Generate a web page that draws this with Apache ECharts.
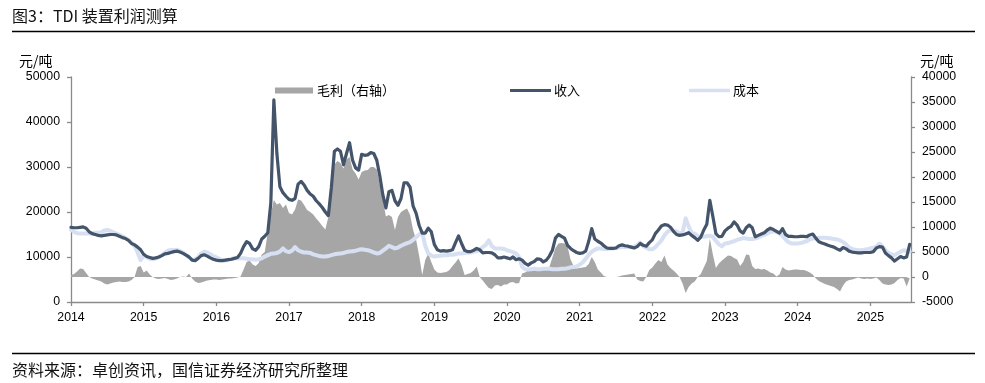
<!DOCTYPE html>
<html>
<head>
<meta charset="utf-8">
<script src="https://cdn.jsdelivr.net/npm/echarts@6/dist/echarts.min.js"></script>
<style>
html,body{margin:0;padding:0;background:#fff;}
#c{width:985px;height:383px;}
</style>
</head>
<body>
<div id="c"></div>
<script>
// Semi-monthly observations (1st and 16th of each month), Jan 2014 - Jul 2025
const startYear = 2014;
const stepsPerYear = 24;
const xTickYears = [2014,2015,2016,2017,2018,2019,2020,2021,2022,2023,2024,2025];

// 收入 (left axis, 元/吨)
const income = [
  // 2014
  16600,16500,16500,16600,16700,16400,15600,15200,15000,14800,14700,14800,14900,15000,15000,14900,14600,14300,14100,13700,13000,12700,12200,11600,
  // 2015
  10600,10100,9900,9700,9800,10000,10300,10700,10800,11000,11200,11300,11100,10800,10400,10000,9300,9200,9700,10300,10500,10200,9800,9500,
  // 2016
  9300,9200,9200,9300,9400,9500,9700,9900,10800,12300,13400,13000,11800,11500,12300,14000,14600,15400,22000,44900,33000,25600,24300,23500,
  // 2017
  22800,22600,23000,26200,26800,26000,24800,24000,23500,22500,21800,21000,20000,19200,25500,33500,34000,33500,30500,33000,35400,31500,29800,29300,
  // 2018
  32800,32600,32700,33200,33000,31500,28000,23800,20900,24500,24800,22500,21500,23000,26500,26500,25500,21300,19700,17000,15300,15300,16400,15600,
  // 2019
  12800,11600,11300,11400,11300,11400,11600,13200,14700,13000,11500,11200,11200,11500,11900,11600,10900,11000,11000,10900,10500,9800,9800,10000,
  // 2020
  9800,9600,10000,9400,9600,9300,8600,8200,8700,9000,9600,9500,8900,9300,10200,11500,14200,15000,14600,14200,12600,11900,11400,11000,
  // 2021
  10800,10900,11300,13500,16300,14000,13500,13100,12500,12000,11900,11900,12000,12500,12700,12500,12400,12200,12000,12300,13000,12600,12400,13200,
  // 2022
  13800,15200,16000,16900,17200,17100,16600,15700,15000,14800,14900,15100,15400,14800,14300,13700,14400,16000,17300,22600,19000,15200,14500,14600,
  // 2023
  15800,16400,16800,17800,17100,15800,15300,16500,17100,16500,14500,14800,15100,15400,16000,16400,16100,15700,15300,16300,15000,14600,14600,14500,
  // 2024
  14500,14600,14600,14500,14900,15100,14200,13400,13100,12900,12600,12400,12200,11800,11500,12100,11800,11300,11100,11000,10900,10900,11000,11000,
  // 2025
  11000,11200,12000,12300,12200,10900,10300,9800,9100,9600,10100,9800,10000,12800
];

// 成本 (left axis, 元/吨)
const cost = [
  // 2014
  16100,15600,15300,15200,15200,15200,15200,15300,15400,15400,15500,15900,16000,15800,15500,15200,14900,14600,14200,13800,13200,12500,11000,9300,
  // 2015
  10300,10000,9600,9500,9700,9900,10400,10900,11400,11600,11500,11600,11300,11000,10500,9900,9400,9400,10000,10800,11200,11000,10600,10200,
  // 2016
  9900,9600,9300,9200,9400,9600,9700,9800,9700,9700,9600,9500,9500,9400,9500,9700,10100,10400,10700,10800,10900,11200,11900,11300,
  // 2017
  11100,11400,12200,11500,11200,11000,11000,10900,10600,10400,10200,10100,10100,10200,10400,10600,10700,10800,10900,11100,11200,11300,11400,11600,
  // 2018
  11700,11600,11500,11300,11000,10800,10900,11400,11900,12500,12200,11900,12100,12500,12800,13100,13300,13800,14400,15000,15500,12500,10800,10300,
  // 2019
  10100,10200,10300,10400,10400,10500,10500,10600,10800,10800,10900,11000,11000,11200,11300,11600,12200,12700,13700,12400,11900,11900,11900,11800,
  // 2020
  11500,11300,11100,10800,10000,7800,7300,7200,7300,7400,7300,7300,7400,7400,7400,7300,7300,7300,7400,7400,7500,7700,7800,7900,
  // 2021
  8300,8800,9600,10500,11200,11600,11900,11900,11800,11800,11900,11900,12000,12100,12200,12300,12200,12200,12300,12600,13200,12400,12100,11700,
  // 2022
  11700,12200,12900,13700,14800,15600,16000,15800,15700,15300,15400,18600,16800,15300,15200,14600,14500,14500,14600,14700,14500,13600,12800,12400,
  // 2023
  13000,13100,13300,13500,13800,14000,14200,14100,14000,14000,14100,14300,14700,14900,15200,15600,15700,15600,15200,14700,13900,13300,13000,13000,
  // 2024
  13000,13100,13300,13500,13900,14100,14200,14300,14300,14300,14200,14100,14000,13900,13700,13300,12800,12100,11800,11600,11500,11500,11600,11700,
  // 2025
  11900,12100,12300,13000,12300,11500,10900,10600,10400,10800,11200,11500,11400,11200
];

// 毛利 (right axis, 元/吨)
const margin = [
  // 2014
  400,600,1100,1700,1600,800,0,-300,-500,-700,-900,-1300,-1500,-1300,-1100,-1000,-900,-1000,-1000,-900,-600,0,2000,2200,
  // 2015
  900,1300,500,0,-300,-400,-300,-200,-400,-600,-500,-300,0,100,0,700,-300,-900,-1200,-1100,-900,-700,-600,-500,
  // 2016
  -500,-600,-500,-400,-300,-300,-200,-100,100,1500,3000,3300,2500,2200,2800,4500,5000,9000,12500,15400,14500,14800,13800,14500,
  // 2017
  12800,12500,13500,15500,15300,14400,13400,13000,12500,11700,11000,10200,9500,12000,16500,22500,23200,22800,21700,23500,24000,21500,20700,19500,
  // 2018
  21000,21300,21400,22000,22000,21500,18500,15400,12100,12400,12000,9400,12000,13000,13400,13700,12400,9400,7400,4200,400,3400,4700,3000,
  // 2019
  1500,900,800,900,1000,1400,2200,2900,3700,2400,400,600,800,1300,2100,0,-700,-1500,-2200,-2400,-1700,-1600,-1900,-1500,
  // 2020
  -1500,-1100,-1000,-1300,-1200,700,900,1300,1400,1500,1400,1400,1500,1600,2000,3900,5800,6700,6800,6700,6100,3500,2200,1700,
  // 2021
  1800,1900,2000,2600,4000,3000,1500,900,200,0,0,0,0,100,300,400,500,600,700,-500,-800,-900,0,1400,
  // 2022
  1900,2700,3400,3000,4300,2500,1800,1300,700,0,-1300,-3200,-2000,-1300,-900,0,600,1900,3200,7700,4500,1800,2700,3300,
  // 2023
  3800,4300,4200,3800,3500,2200,3000,4500,4400,2200,1600,1700,1500,1600,1300,900,700,100,500,2000,1500,1300,1400,1500,
  // 2024
  1500,1400,1400,1200,900,500,-300,-800,-1100,-1400,-1600,-1800,-2000,-2400,-2900,-1700,-900,-600,-500,-300,-100,-300,-400,-300,
  // 2025
  -400,-300,-100,-600,-1300,-1500,-1600,-1500,-1200,-600,-200,-300,-1900,-300
];

const leftTicks = {min: 0, max: 50000, interval: 10000};
const rightTicks = {min: -5000, max: 40000, interval: 5000};
const xEnd = 2025.56;

const FONT = "'Liberation Sans', 'Noto Sans CJK SC', sans-serif";
const CJK = "'Noto Sans CJK SC', 'Liberation Sans', sans-serif";
const AXIS_COLOR = '#8a8a8a';

const toPairs = arr => arr.map((v, i) => [startYear + i / stepsPerYear, v]);

const chart = echarts.init(document.getElementById('c'), null, {renderer: 'canvas', width: 985, height: 383});

const option = {
  animation: false,
  backgroundColor: '#ffffff',
  textStyle: {fontFamily: FONT},
  grid: {left: 71, right: 74, top: 77, bottom: 81, containLabel: false},
  legend: [
    {left: 270, top: 79, itemWidth: 38, itemHeight: 6, itemGap: 0,
     data: [{name: '毛利（右轴）', icon: 'rect'}],
     textStyle: {fontFamily: CJK, fontSize: 13, color: '#000', padding: [0, 0, 0, -1]}},
    {left: 505, top: 79, itemWidth: 41, itemHeight: 3, itemGap: 0,
     data: [{name: '收入', icon: 'rect'}],
     textStyle: {fontFamily: CJK, fontSize: 13, color: '#000', padding: [0, 0, 0, -2]}},
    {left: 684, top: 79, itemWidth: 41, itemHeight: 3.5, itemGap: 0,
     data: [{name: '成本', icon: 'rect'}],
     textStyle: {fontFamily: CJK, fontSize: 13, color: '#000', padding: [0, 0, 0, -2]}}
  ],
  xAxis: {
    type: 'value',
    min: xTickYears[0],
    max: xEnd,
    interval: 1,
    axisLine: {show: true, onZero: false, lineStyle: {color: AXIS_COLOR, width: 1.3}},
    axisTick: {show: true, inside: false, length: 4, lineStyle: {color: AXIS_COLOR, width: 1.3}},
    axisLabel: {
      fontSize: 12.3, color: '#000', margin: 9, showMaxLabel: false,
      formatter: v => (xTickYears.indexOf(v) >= 0 ? String(v) : '')
    },
    splitLine: {show: false}
  },
  yAxis: [
    {
      type: 'value', position: 'left',
      min: leftTicks.min, max: leftTicks.max, interval: leftTicks.interval,
      axisLine: {show: true, lineStyle: {color: AXIS_COLOR, width: 1.3}},
      axisTick: {show: true, inside: false, length: 4, lineStyle: {color: AXIS_COLOR, width: 1.3}},
      axisLabel: {fontSize: 12.3, color: '#000', margin: 11, formatter: v => String(v)},
      splitLine: {show: false}
    },
    {
      type: 'value', position: 'right',
      min: rightTicks.min, max: rightTicks.max, interval: rightTicks.interval,
      axisLine: {show: true, lineStyle: {color: AXIS_COLOR, width: 1.3}},
      axisTick: {show: true, inside: false, length: 4, lineStyle: {color: AXIS_COLOR, width: 1.3}},
      axisLabel: {fontSize: 12.3, color: '#000', margin: 11, formatter: v => String(v)},
      splitLine: {show: false}
    }
  ],
  series: [
    {
      name: '毛利（右轴）', type: 'line', yAxisIndex: 1,
      data: toPairs(margin),
      symbol: 'none', showSymbol: false,
      lineStyle: {width: 0, color: '#a6a6a6'},
      itemStyle: {color: '#a6a6a6'},
      areaStyle: {color: '#a6a6a6', opacity: 1, origin: 'auto'},
      z: 1
    },
    {
      name: '成本', type: 'line', yAxisIndex: 0,
      data: toPairs(cost),
      symbol: 'none', showSymbol: false,
      lineStyle: {width: 4, color: '#d6e0f2', join: 'round', cap: 'round'},
      itemStyle: {color: '#d6e0f2'},
      z: 2
    },
    {
      name: '收入', type: 'line', yAxisIndex: 0,
      data: toPairs(income),
      symbol: 'none', showSymbol: false,
      lineStyle: {width: 3.2, color: '#44546a', join: 'round', cap: 'round'},
      itemStyle: {color: '#44546a'},
      z: 3
    }
  ],
  graphic: [
    {type: 'text', left: 12, top: 8,
     style: {text: '图3：TDI 装置利润测算', font: '16px ' + CJK, fill: '#111'}},
    {type: 'line', shape: {x1: 12, y1: 31.5, x2: 975, y2: 31.5},
     style: {stroke: '#000', lineWidth: 1.3}},
    {type: 'text', left: 19, top: 54,
     style: {text: '元/吨', font: '14px ' + CJK, fill: '#000'}},
    {type: 'text', left: 920, top: 54,
     style: {text: '元/吨', font: '14px ' + CJK, fill: '#000'}},
    {type: 'line', shape: {x1: 12, y1: 353.5, x2: 975, y2: 353.5},
     style: {stroke: '#000', lineWidth: 1.3}},
    {type: 'text', left: 12, top: 362,
     style: {text: '资料来源：卓创资讯，国信证券经济研究所整理', font: '16px ' + CJK, fill: '#111'}}
  ]
};

chart.setOption(option);
</script>
</body>
</html>
